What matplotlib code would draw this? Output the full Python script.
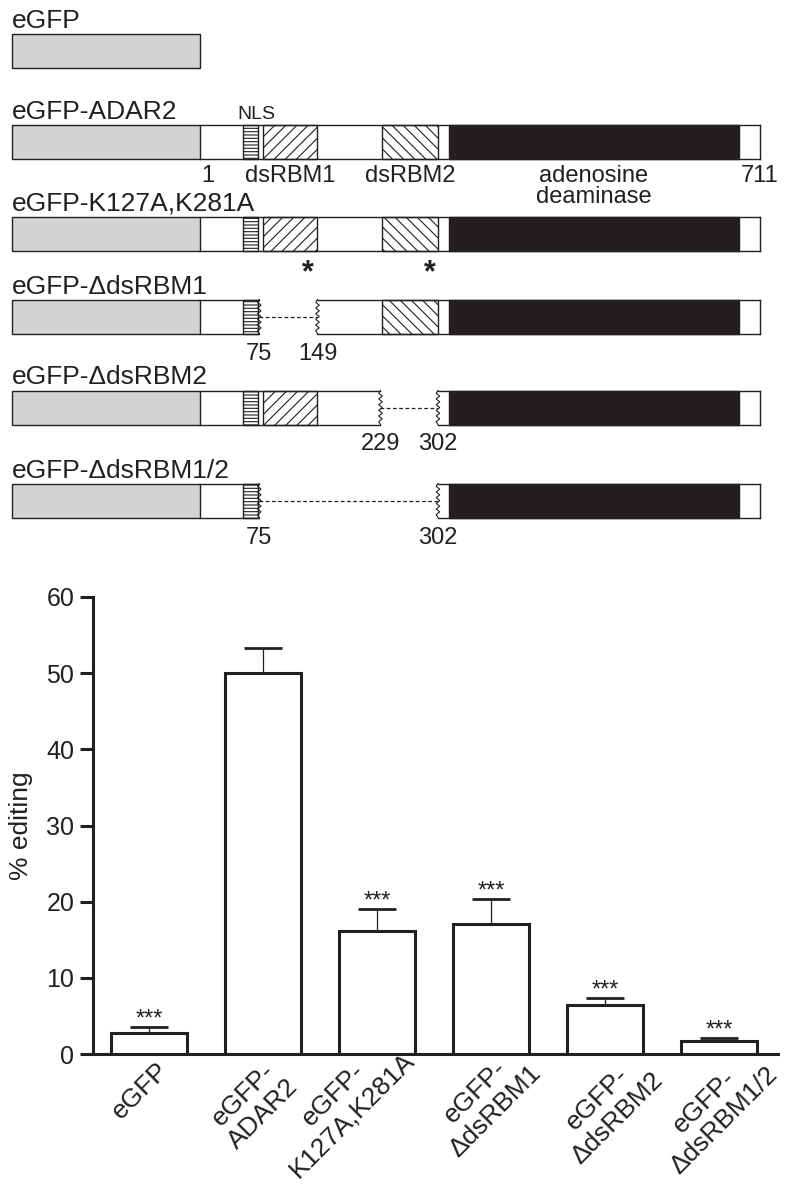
import numpy as np
import matplotlib
matplotlib.use('Agg')
import matplotlib.pyplot as plt
from matplotlib.patches import Rectangle
import matplotlib.transforms as mtransforms

plt.rcParams['font.family'] = ['Liberation Sans', 'DejaVu Sans']
plt.rcParams['hatch.linewidth'] = 0.8

INK = '#231f20'
GRAY = '#d3d3d3'

# ---------------- domain diagram data (residue numbering) ----------------
egfp_len = 239
adar2_len = 711
construct_names = ['eGFP', 'eGFP-ADAR2', 'eGFP-K127A,K281A',
                   'eGFP-ΔdsRBM1', 'eGFP-ΔdsRBM2', 'eGFP-ΔdsRBM1/2']
construct_segments = [
    [],
    [(1, 711)],
    [(1, 711)],
    [(1, 75), (149, 711)],
    [(1, 229), (302, 711)],
    [(1, 75), (302, 711)],
]
domain_names = ['NLS', 'dsRBM1', 'dsRBM2', 'adenosine\ndeaminase']
domain_starts = [55, 80, 231, 316]
domain_ends = [73, 149, 302, 684]
mutation_sites = [127, 281]
break_labels = [[], [], [], [75, 149], [229, 302], [75, 302]]

# ---------------- bar chart data ----------------
bar_labels = ['eGFP', 'eGFP-\nADAR2', 'eGFP-\nK127A,K281A',
              'eGFP-\nΔdsRBM1', 'eGFP-\nΔdsRBM2', 'eGFP-\nΔdsRBM1/2']
editing = [2.8, 50.0, 16.1, 17.1, 6.4, 1.75]
editing_sem = [0.8, 3.3, 2.9, 3.3, 0.9, 0.3]
significance = ['***', '', '***', '***', '***', '***']

# label placement tweaks (layout only, pixels: right, down)
xlabel_shift_px = [(7, 4), (3, 1), (6, -26), (18, -13), (26, -6), (27, -11)]

# ---------------- figure ----------------
W, H = 786, 1192
fig = plt.figure(figsize=(W / 100, H / 100), dpi=100)

# ---- top schematic: x in residues, y in pixel rows ----
left_px, end_px = 12, 760
k = (end_px - left_px) / (egfp_len + adar2_len)   # px per residue
ax_t = fig.add_axes([0, 0, 1, 1])
ax_t.set_xlim(-egfp_len - left_px / k, adar2_len + (W - end_px) / k)
ax_t.set_ylim(H, 0)
ax_t.axis('off')

row_y = [50.5, 142, 234, 316.5, 407.5, 500.5]
hh = 17.0
lw = 1.0
domain_face = ['white', 'white', 'white', INK]
domain_hatch = ['-----', '///', '\\\\\\', None]


def zig(ax, r, yc):
    n = 12
    ys = np.linspace(yc - hh, yc + hh, n + 1)
    a = 1.8 / k
    xs = r + np.array([0] + [a * (-1) ** i for i in range(1, n)] + [0])
    ax.plot(xs, ys, color=INK, lw=0.8, solid_joinstyle='miter', zorder=5)


for i, name in enumerate(construct_names):
    yc = row_y[i]
    top, bot = yc - hh, yc + hh
    ax_t.text(-egfp_len, top - 6, name, fontsize=19, color=INK,
              ha='left', va='baseline')
    ax_t.add_patch(Rectangle((-egfp_len, top), egfp_len, 2 * hh,
                             facecolor=GRAY, edgecolor=INK, lw=lw, zorder=2))
    segs = construct_segments[i]
    for j, (s, e) in enumerate(segs):
        x0 = 0 if s == 1 else s
        ax_t.add_patch(Rectangle((x0, top), e - x0, 2 * hh, facecolor='white',
                                 edgecolor='none', zorder=1))
        ax_t.plot([x0, e], [top, top], color=INK, lw=lw, zorder=4)
        ax_t.plot([x0, e], [bot, bot], color=INK, lw=lw, zorder=4)
        for ds, de, fc, ht in zip(domain_starts, domain_ends, domain_face, domain_hatch):
            a0, a1 = max(ds, x0), min(de, e)
            if a1 > a0:
                ax_t.add_patch(Rectangle((a0, top), a1 - a0, 2 * hh, facecolor=fc,
                                         edgecolor=INK, hatch=ht, lw=lw, zorder=3))
        if s != 1:
            zig(ax_t, s, yc)
        if e == adar2_len:
            ax_t.plot([e, e], [top, bot], color=INK, lw=lw, zorder=4)
        else:
            zig(ax_t, e, yc)
        if j + 1 < len(segs):
            ax_t.plot([e, segs[j + 1][0]], [yc, yc], color=INK, lw=0.9,
                      linestyle=(0, (3, 2)), zorder=4)
    for b in break_labels[i]:
        ax_t.text(b, bot + 26, str(b), fontsize=17, color=INK,
                  ha='center', va='baseline')

# domain labels around the full-length construct
yA = row_y[1]
ax_t.text((domain_starts[0] + domain_ends[0]) / 2 + 6 / k, yA - hh - 6,
          domain_names[0], fontsize=14, color=INK, ha='center', va='baseline')
for dn, ds, de in zip(domain_names[1:], domain_starts[1:], domain_ends[1:]):
    ax_t.text((ds + de) / 2, yA + hh + 6, dn, fontsize=17, color=INK,
              ha='center', va='top', linespacing=0.95)
ax_t.text(1, yA + hh + 6, '1', fontsize=17, color=INK, ha='left', va='top')
ax_t.text(adar2_len, yA + hh + 6, str(adar2_len), fontsize=17, color=INK,
          ha='center', va='top')

# mutation asterisks
yK = row_y[2]
for site in mutation_sites:
    ax_t.text(site + 8 / k, yK + hh + 22, '*', fontsize=22, fontweight='bold',
              color=INK, ha='center', va='center')

# ---- bar chart ----
ax = fig.add_axes([93 / W, (H - 1054) / H, 685 / W, 457 / H])
x = np.arange(len(editing))
ax.bar(x, editing, width=0.667, facecolor='white', edgecolor=INK,
       linewidth=2.2, zorder=3)
ax.errorbar(x, editing, yerr=[np.zeros(len(editing)), editing_sem], fmt='none',
            ecolor=INK, elinewidth=0.9, capsize=13.5, capthick=2.0, zorder=2)
for xi, v, e, s in zip(x, editing, editing_sem, significance):
    if s:
        ax.annotate(s, xy=(xi, v + e), xytext=(0, 1), textcoords='offset points',
                    ha='center', va='baseline', fontsize=17, color=INK)

ax.set_xlim(-0.491, 5.518)
ax.set_ylim(0, 60)
ax.set_yticks(np.arange(0, 61, 10))
for sp in ['top', 'right']:
    ax.spines[sp].set_visible(False)
for sp in ['left', 'bottom']:
    ax.spines[sp].set_linewidth(2.2)
    ax.spines[sp].set_color(INK)
ax.tick_params(axis='y', length=9.4, width=2.2, labelsize=18, pad=4,
               colors=INK)
ax.tick_params(axis='x', length=0, pad=0, colors=INK)
ax.set_xticks(x)
ax.set_xticklabels(bar_labels, rotation=45, ha='right', va='top',
                   rotation_mode='anchor', fontsize=19, multialignment='center')
for lab, (dx, dy) in zip(ax.get_xticklabels(), xlabel_shift_px):
    off = mtransforms.ScaledTranslation(dx / 100, -dy / 100, fig.dpi_scale_trans)
    lab.set_transform(lab.get_transform() + off)
ax.set_ylabel('% editing', fontsize=19, color=INK)
ax.yaxis.set_label_coords(-0.088, 0.5)
ax.patch.set_alpha(0)

fig.savefig('out.png', dpi=100)
